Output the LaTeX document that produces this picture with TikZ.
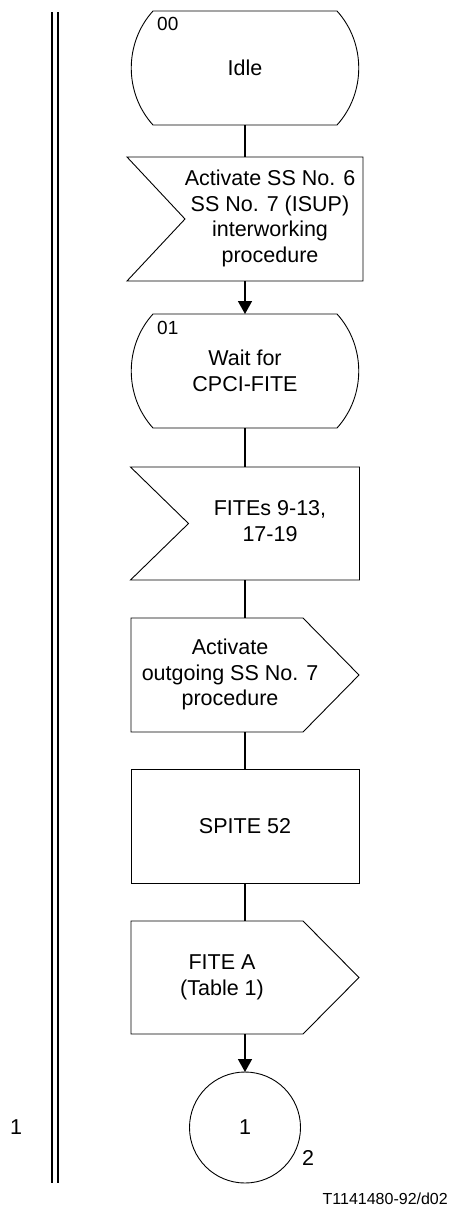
\documentclass[tikz,border=0pt]{standalone}
\usepackage{fontspec}
\setmainfont{Liberation Sans}
\usepackage{tikz}
\usetikzlibrary{arrows.meta, positioning}

% centred block of lines, moved sideways inside its node
\newcommand{\shifted}[2]{\hspace*{#1}\makebox[0pt]{\begin{tabular}{@{}c@{}}#2\end{tabular}}\hspace*{-#1}}

\begin{document}
\begin{tikzpicture}[
    font=\fontsize{21.5}{25.5}\selectfont,
    outline/.style={draw=black, line width=0.9pt},
    state/.style={
        rectangle,
        minimum width=228pt,
        minimum height=114pt,
        inner sep=0pt,
        outer sep=0pt,
        align=center
    },
    signalin/.style={rectangle, minimum width=232pt, minimum height=118pt, inner sep=0pt, outer sep=0pt},
    signalout/.style={rectangle, minimum width=228pt, minimum height=114pt, inner sep=0pt, outer sep=0pt},
    task/.style={
        rectangle,
        draw=black,
        line width=0.9pt,
        minimum width=228pt,
        minimum height=114pt,
        inner sep=0pt,
        outer sep=0pt
    },
    flow/.style={line width=1.6pt},
    flowarrow/.style={flow, -{Triangle[width=14pt, length=13pt]}},
    statenum/.style={anchor=base west, inner sep=0pt, font=\fontsize{19}{22}\selectfont}
]
    % Page frame
    \useasboundingbox (0,0) rectangle (452pt,-1210pt);

    % Double divider line (left)
    \draw[line width=2pt] (52.3pt,-12pt) -- (52.3pt,-1183pt);
    \draw[line width=2pt] (58.3pt,-12pt) -- (58.3pt,-1183pt);

    % States, signals and task
    \node[state] (idle) at (245pt,-68pt) {Idle};
    \node[signalin, minimum width=236pt, minimum height=124pt, below=32pt of idle] (actin) {\shifted{25pt}{Activate SS No. 6\\SS No. 7 (ISUP)\\interworking\\procedure}};
    \node[state, below=33pt of actin] (waitst) {Wait for\\CPCI-FITE};
    \node[signalin, minimum width=229pt, minimum height=113pt, below=39pt of waitst] (fitein) {\shifted{25pt}{FITEs 9-13,\\17-19}};
    \node[signalout, below=38pt of fitein] (actout) {\shifted{-15pt}{Activate\\outgoing SS No. 7\\procedure}};
    \node[task, below=37pt of actout] (spite) {SPITE 52};
    \node[signalout, minimum height=113pt, below=38pt of spite] (fiteout) {\shifted{-23pt}{FITE A\\(Table 1)}};
    \node[circle, draw=black, line width=0.9pt, minimum size=111pt, inner sep=0pt, outer sep=0pt, below=38pt of fiteout] (conn) {1};

    % State numbers
    \node[statenum] (idlenum) at ([xshift=26pt, yshift=-19pt]idle.north west) {00};
    \node[statenum] (waitnum) at ([xshift=26pt, yshift=-20pt]waitst.north west) {01};

    % Outlines: states
    \foreach \s in {idle,waitst} {
        \draw[outline] ([xshift=22pt]\s.north west) -- ([xshift=-22pt]\s.north east)
            .. controls ([xshift=7pt, yshift=-32pt]\s.north east) and ([xshift=7pt, yshift=32pt]\s.south east) .. ([xshift=-22pt]\s.south east)
            -- ([xshift=22pt]\s.south west)
            .. controls ([xshift=-7pt, yshift=32pt]\s.south west) and ([xshift=-7pt, yshift=-32pt]\s.north west) .. ([xshift=22pt]\s.north west) -- cycle;
    }
    % Outlines: input signals (notch on the left)
    \foreach \s in {actin,fitein} {
        \draw[outline] (\s.north west) -- (\s.north east) -- (\s.south east) -- (\s.south west) -- ([xshift=58pt]\s.west) -- cycle;
    }
    % Outlines: output signals (point on the right)
    \foreach \s in {actout,fiteout} {
        \draw[outline] (\s.north west) -- ([xshift=-56pt]\s.north east) -- (\s.east) -- ([xshift=-56pt]\s.south east) -- (\s.south west) -- cycle;
    }

    % Flow lines
    \draw[flow] (idle.south) -- (actin.north);
    \draw[flowarrow] (actin.south) -- (waitst.north);
    \draw[flow] (waitst.south) -- (fitein.north);
    \draw[flow] (fitein.south) -- (actout.north);
    \draw[flow] (actout.south) -- (spite.north);
    \draw[flow] (spite.south) -- (fiteout.north);
    \draw[flowarrow] (fiteout.south) -- (conn.north);

    % Page and connector labels
    \node[inner sep=0pt] (connpage) at ([xshift=63pt, yshift=-30pt]conn.center) {2};
    \node[inner sep=0pt] (pagenum) at (16pt,-1127pt) {1};
    \node[anchor=base east, inner sep=0pt, font=\fontsize{16}{19}\selectfont] (figref) at (448pt,-1204pt) {T1141480-92/d02};

\end{tikzpicture}
\end{document}
